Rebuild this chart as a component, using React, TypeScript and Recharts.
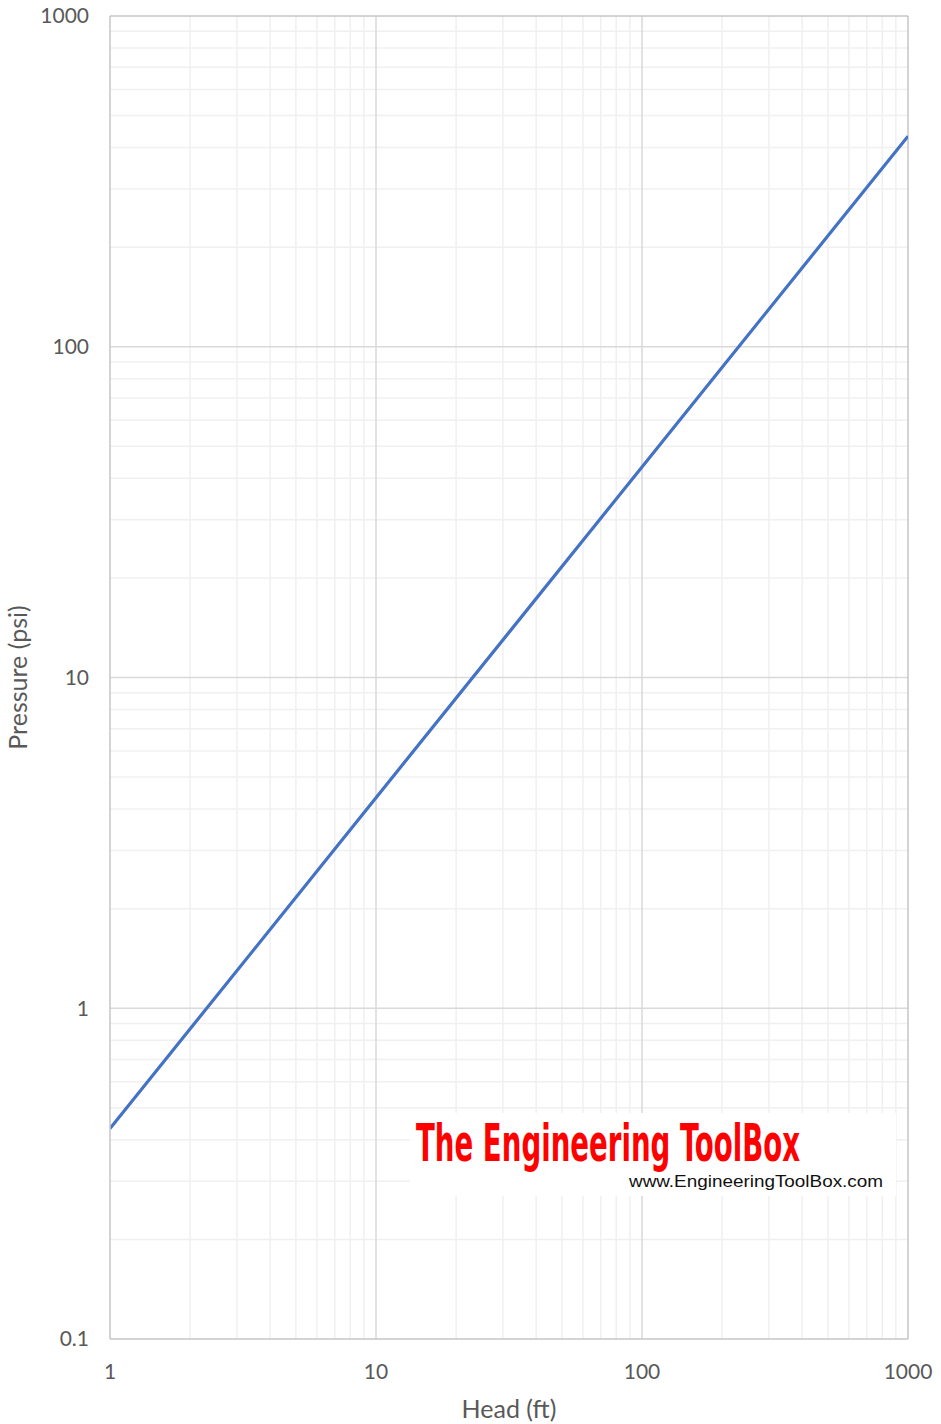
import { LineChart, Line, XAxis, YAxis, ReferenceLine } from "recharts"

// head (ft) vs pressure (psi), water: p = 0.433 * h
const headFt = [1, 10, 100, 1000]
const pressurePsi = [0.433, 4.33, 43.3, 433]

const xTicks = [1, 10, 100, 1000]
const yTicks = [0.1, 1, 10, 100, 1000]
const minorSteps = [2, 3, 4, 5, 6, 7, 8, 9]

const data = headFt.map((h, i) => ({ head: h, pressure: pressurePsi[i] }))

const minorOf = (decades: number[]) =>
  decades.slice(0, -1).flatMap((d) => minorSteps.map((m) => +(d * m).toPrecision(3)))

const xMinor = minorOf(xTicks)
const yMinor = minorOf(yTicks)

const axisColor = "#c6c6c6"
const majorColor = "#d9d9d9"
const minorColor = "#f0f0f0"
const textColor = "#595959"
const font = "Lato, 'Open Sans', sans-serif"

export default function App() {
  return (
    <div style={{ position: "absolute", left: 0, top: 0, width: 941, height: 1424, background: "#fff" }}>
      <LineChart
        width={941}
        height={1424}
        data={data}
        margin={{ top: 16, right: 33, left: 0, bottom: 0 }}
      >
        {xMinor.map((v) => (
          <ReferenceLine key={`xm${v}`} x={v} stroke={minorColor} strokeWidth={1.5} />
        ))}
        {yMinor.map((v) => (
          <ReferenceLine key={`ym${v}`} y={v} stroke={minorColor} strokeWidth={1.5} />
        ))}
        {xTicks.slice(1, -1).map((v) => (
          <ReferenceLine key={`xM${v}`} x={v} stroke={majorColor} strokeWidth={1.5} />
        ))}
        {yTicks.slice(1, -1).map((v) => (
          <ReferenceLine key={`yM${v}`} y={v} stroke={majorColor} strokeWidth={1.5} />
        ))}
        <ReferenceLine x={1000} stroke={axisColor} strokeWidth={1.5} />
        <ReferenceLine y={1000} stroke={axisColor} strokeWidth={1.5} />
        <XAxis
          dataKey="head"
          type="number"
          scale="log"
          domain={[1, 1000]}
          ticks={xTicks}
          allowDataOverflow
          height={85}
          tickLine={false}
          tickMargin={19}
          axisLine={{ stroke: axisColor, strokeWidth: 1.5 }}
          tick={{ fill: textColor, fontSize: 21, fontFamily: font }}
          label={{
            value: "Head (ft)",
            position: "insideBottom",
            offset: 6,
            fill: textColor,
            fontSize: 25,
            fontFamily: font,
          }}
        />
        <YAxis
          dataKey="pressure"
          type="number"
          scale="log"
          domain={[0.1, 1000]}
          ticks={yTicks}
          allowDataOverflow
          width={110}
          tickLine={false}
          tickMargin={15}
          axisLine={{ stroke: axisColor, strokeWidth: 1.5 }}
          tick={{ fill: textColor, fontSize: 21, fontFamily: font }}
          label={{
            value: "Pressure (psi)",
            angle: -90,
            position: "insideLeft",
            offset: 18,
            fill: textColor,
            fontSize: 25,
            fontFamily: font,
            style: { textAnchor: "middle" },
          }}
        />
        <Line
          type="linear"
          dataKey="pressure"
          stroke="#4472c4"
          strokeWidth={3.2}
          dot={false}
          isAnimationActive={false}
        />
      </LineChart>
      <svg
        width={941}
        height={1424}
        style={{ position: "absolute", left: 0, top: 0, pointerEvents: "none" }}
      >
        <rect x={410} y={1113} width={486} height={83} fill="#fff" />
        <text
          transform="translate(416 1161) scale(1 1.7)"
          x={0}
          y={0}
          fill="#ff0000"
          fontSize={30}
          fontWeight="bold"
          fontFamily="'DejaVu Sans Condensed', 'Liberation Sans Narrow', sans-serif"
          textLength={384}
          lengthAdjust="spacingAndGlyphs"
        >
          The Engineering ToolBox
        </text>
        <text
          x={629}
          y={1187}
          fill="#111"
          fontSize={16}
          fontFamily="'Liberation Sans', Arial, sans-serif"
          textLength={254}
          lengthAdjust="spacingAndGlyphs"
        >
          www.EngineeringToolBox.com
        </text>
      </svg>
    </div>
  )
}
